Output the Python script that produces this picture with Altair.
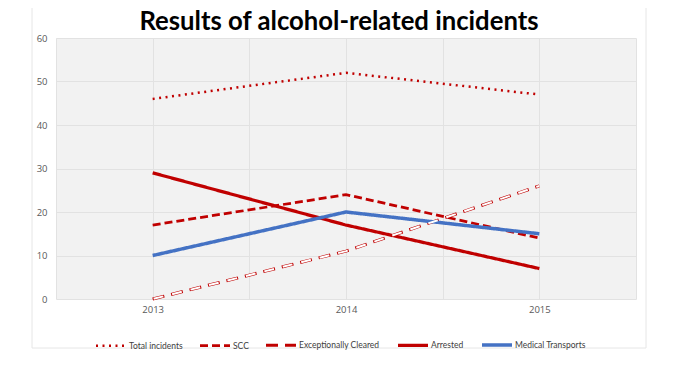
import altair as alt
import pandas as pd

title_text = "Results of alcohol-related incidents"
years = [2013, 2014, 2015]
series_names = ["Total incidents", "SCC", "Exceptionally Cleared", "Arrested", "Medical Transports"]
total_incidents = [46, 52, 47]
scc = [17, 24, 14]
exceptionally_cleared = [0, 11, 26]
arrested = [29, 17, 7]
medical_transports = [10, 20, 15]
x_grid_values = [2012.5, 2013, 2013.5, 2014, 2014.5, 2015, 2015.5]
y_ticks = [0, 10, 20, 30, 40, 50, 60]

series_colors = ["#C00000", "#C00000", "#C00000", "#C00000", "#4472C4"]
series_dashes = [[2, 4.5], [8, 4], [12, 7], [1, 0], [1, 0]]
series_widths = [2.5, 3.5, 4.5, 3, 3]

rows = []
for name, vals in zip(series_names, [total_incidents, scc, exceptionally_cleared, arrested, medical_transports]):
    for yr, v in zip(years, vals):
        rows.append({"year": yr, "value": v, "series": name})
df = pd.DataFrame(rows)

legend = alt.Legend(
    title=None, orient="none", legendX=38, legendY=290, direction="horizontal",
    columns=5, symbolType="stroke", symbolSize=900, labelFont="Lato",
    labelFontSize=8.5, labelColor="#404040", labelOffset=1, columnPadding=11,
    padding=0,
)

x_enc = alt.X(
    "year:Q",
    scale=alt.Scale(domain=[2012.5, 2015.5], nice=False, zero=False),
    axis=alt.Axis(
        title=None, values=x_grid_values, grid=True, gridColor="#e2e2e2",
        ticks=False, domain=False, labelFont="Open Sans", labelFontSize=9.5,
        labelColor="#595959", labelPadding=5,
        labelExpr="datum.value % 1 == 0 ? toString(datum.value) : ''",
    ),
)
y_enc = alt.Y(
    "value:Q",
    scale=alt.Scale(domain=[0, 60], nice=False),
    axis=alt.Axis(
        title=None, values=y_ticks, grid=True, gridColor="#e2e2e2",
        ticks=False, domain=False, labelFont="Open Sans", labelFontSize=9.5,
        labelColor="#595959", labelPadding=9,
    ),
)

single = alt.Data(values=[{"label": title_text}])

border = alt.Chart(single).mark_rect(
    fill="transparent", stroke="#e6e6e6", strokeWidth=1
).encode(x=alt.value(-24), x2=alt.value(590), y=alt.value(-40), y2=alt.value(310))

title_mark = alt.Chart(single).mark_text(
    font="Lato", fontSize=25.7, fontWeight="bold", color="black",
    align="center", baseline="alphabetic",
).encode(text="label:N", x=alt.value(283), y=alt.value(-8.3))

lines = alt.Chart(df).mark_line(strokeCap="butt").encode(
    x=x_enc,
    y=y_enc,
    color=alt.Color("series:N", scale=alt.Scale(domain=series_names, range=series_colors), legend=legend, sort=series_names),
    strokeDash=alt.StrokeDash("series:N", scale=alt.Scale(domain=series_names, range=series_dashes), legend=legend, sort=series_names),
    strokeWidth=alt.StrokeWidth("series:N", scale=alt.Scale(domain=series_names, range=series_widths), legend=legend, sort=series_names),
)

inner = alt.Chart(df).transform_filter(
    alt.datum.series == "Exceptionally Cleared"
).mark_line(color="white", strokeWidth=2, strokeDash=[10, 9], strokeDashOffset=18, strokeCap="butt").encode(
    x="year:Q", y="value:Q"
)

chart = alt.layer(border, title_mark, lines, inner).properties(
    width=580,
    height=261,
    autosize=alt.AutoSizeParams(type="none"),
    padding={"left": 48, "top": 30, "right": 34, "bottom": 74},
).configure_view(fill="#f2f2f2", stroke=None)

chart.save("out.html", embed_options={"renderer": "svg", "actions": False})
